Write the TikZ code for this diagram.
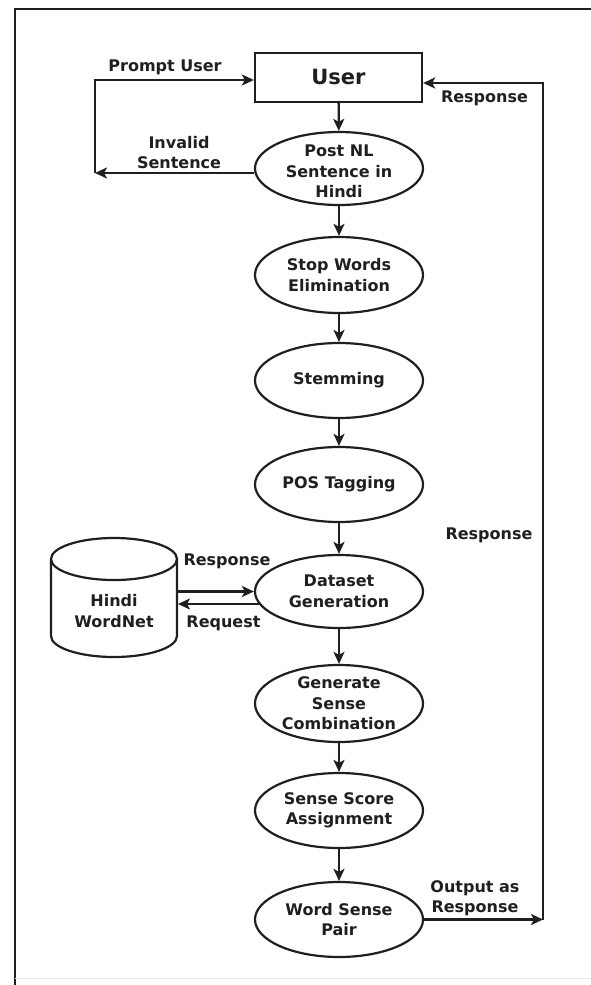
\documentclass[tikz,border=0pt]{standalone}
\usepackage{fontspec}
\setmainfont{DejaVu Sans}
\usetikzlibrary{shapes.geometric,arrows.meta}
\begin{document}
\begin{tikzpicture}[x=1pt,y=-1pt,
  every node/.style={text=black!88},
  txt/.style={font=\fontsize{16}{20.5}\selectfont\bfseries, align=center, inner sep=0pt},
  proc/.style={draw=black!88, ellipse, line width=2.2pt, minimum width=168pt, minimum height=75pt, inner sep=0pt},
  box/.style={draw=black!88, rectangle, line width=2.3pt, minimum width=167pt, minimum height=49pt, inner sep=0pt},
  conn/.style={draw=black!88, line width=2.3pt},
  arr/.style={conn, -{Stealth[length=12pt,width=11pt,inset=3pt]}},
  frame/.style={draw=black!88, line width=2.2pt}
]
\useasboundingbox (0,0) rectangle (591,985);
% frame
\draw[frame] (14.7,985) -- (14.7,9.3) -- (591,9.3);
\draw[gray!20, line width=0.8pt] (14.7,978) -- (591,978);

% nodes
\node[box] (user) at (338.5,77.2) {};
\node[txt, font=\fontsize{21}{25}\selectfont\bfseries] (userT) at (user) {User};
\node[proc, minimum height=73pt] (post) at (339,168.5) {};
\node[txt] (postT) at (339,171.5) {Post NL\\Sentence in\\Hindi};
\node[proc, minimum height=76pt] (stop) at (339,275) {};
\node[txt] (stopT) at (stop) {Stop Words\\Elimination};
\node[proc] (stem) at (339,380.5) {};
\node[txt] (stemT) at (stem) {Stemming};
\node[proc] (pos) at (339,484.5) {};
\node[txt] (posT) at (pos) {POS Tagging};
\node[proc, minimum height=73pt] (data) at (339,591.5) {};
\node[txt] (dataT) at (data) {Dataset\\Generation};
\node[proc, minimum height=77pt] (gen) at (339,703.5) {};
\node[txt] (genT) at (gen) {Generate\\Sense\\Combination};
\node[proc] (score) at (339,810.5) {};
\node[txt] (scoreT) at (score) {Sense Score\\Assignment};
\node[proc] (wsp) at (339,919.5) {};
\node[txt] (wspT) at (wsp) {Word Sense\\Pair};

% cylinder (Hindi WordNet)
\draw[conn, line width=2.2pt] (51,559) -- (51,636) arc[start angle=180, end angle=0, x radius=63, y radius=21] -- (177,559);
\draw[conn, line width=2.2pt] (114,559) ellipse [x radius=63, y radius=21];
\node[txt] (wn) at (114,611) {Hindi\\WordNet};

% coordinates for free ends
\coordinate (lp) at (95,173);
\coordinate (lt) at (95,80);
\coordinate (rb) at (543,919.5);
\coordinate (rt) at (543,83);
\coordinate (wnA) at (177,591.5);
\coordinate (wnB) at (178,604);
\coordinate (dB) at (260,604);

% main flow
\draw[arr] (user) -- (post);
\draw[arr] (post) -- (stop);
\draw[arr] (stop) -- (stem);
\draw[arr] (stem) -- (pos);
\draw[arr] (pos) -- (data);
\draw[arr] (data) -- (gen);
\draw[arr] (gen) -- (score);
\draw[arr] (score) -- (wsp);

% invalid / prompt loop
\draw[arr] (post.west |- lp) -- (lp);
\draw[arr] (lp) -- (lt) -- (user.west |- lt);

% response loop
\draw[arr] (wsp.east) -- (rb);
\draw[arr] (rb) -- (rt) -- (user.east |- rt);

% wordnet exchange
\draw[arr] (wnA) -- (data.west);
\draw[arr] (dB) -- (wnB);

% labels
\node[txt] (lPrompt) at (165,67) {Prompt User};
\node[txt] (lInvalid) at (179,152.5) {Invalid\\Sentence};
\node[txt] (lResp1) at (484.5,98) {Response};
\node[txt] (lResp2) at (489,535) {Response};
\node[txt] (lResp3) at (227,561) {Response};
\node[txt] (lReq) at (223.5,623) {Request};
\node[txt] (lOut) at (475,898) {Output as\\Response};
\end{tikzpicture}
\end{document}
